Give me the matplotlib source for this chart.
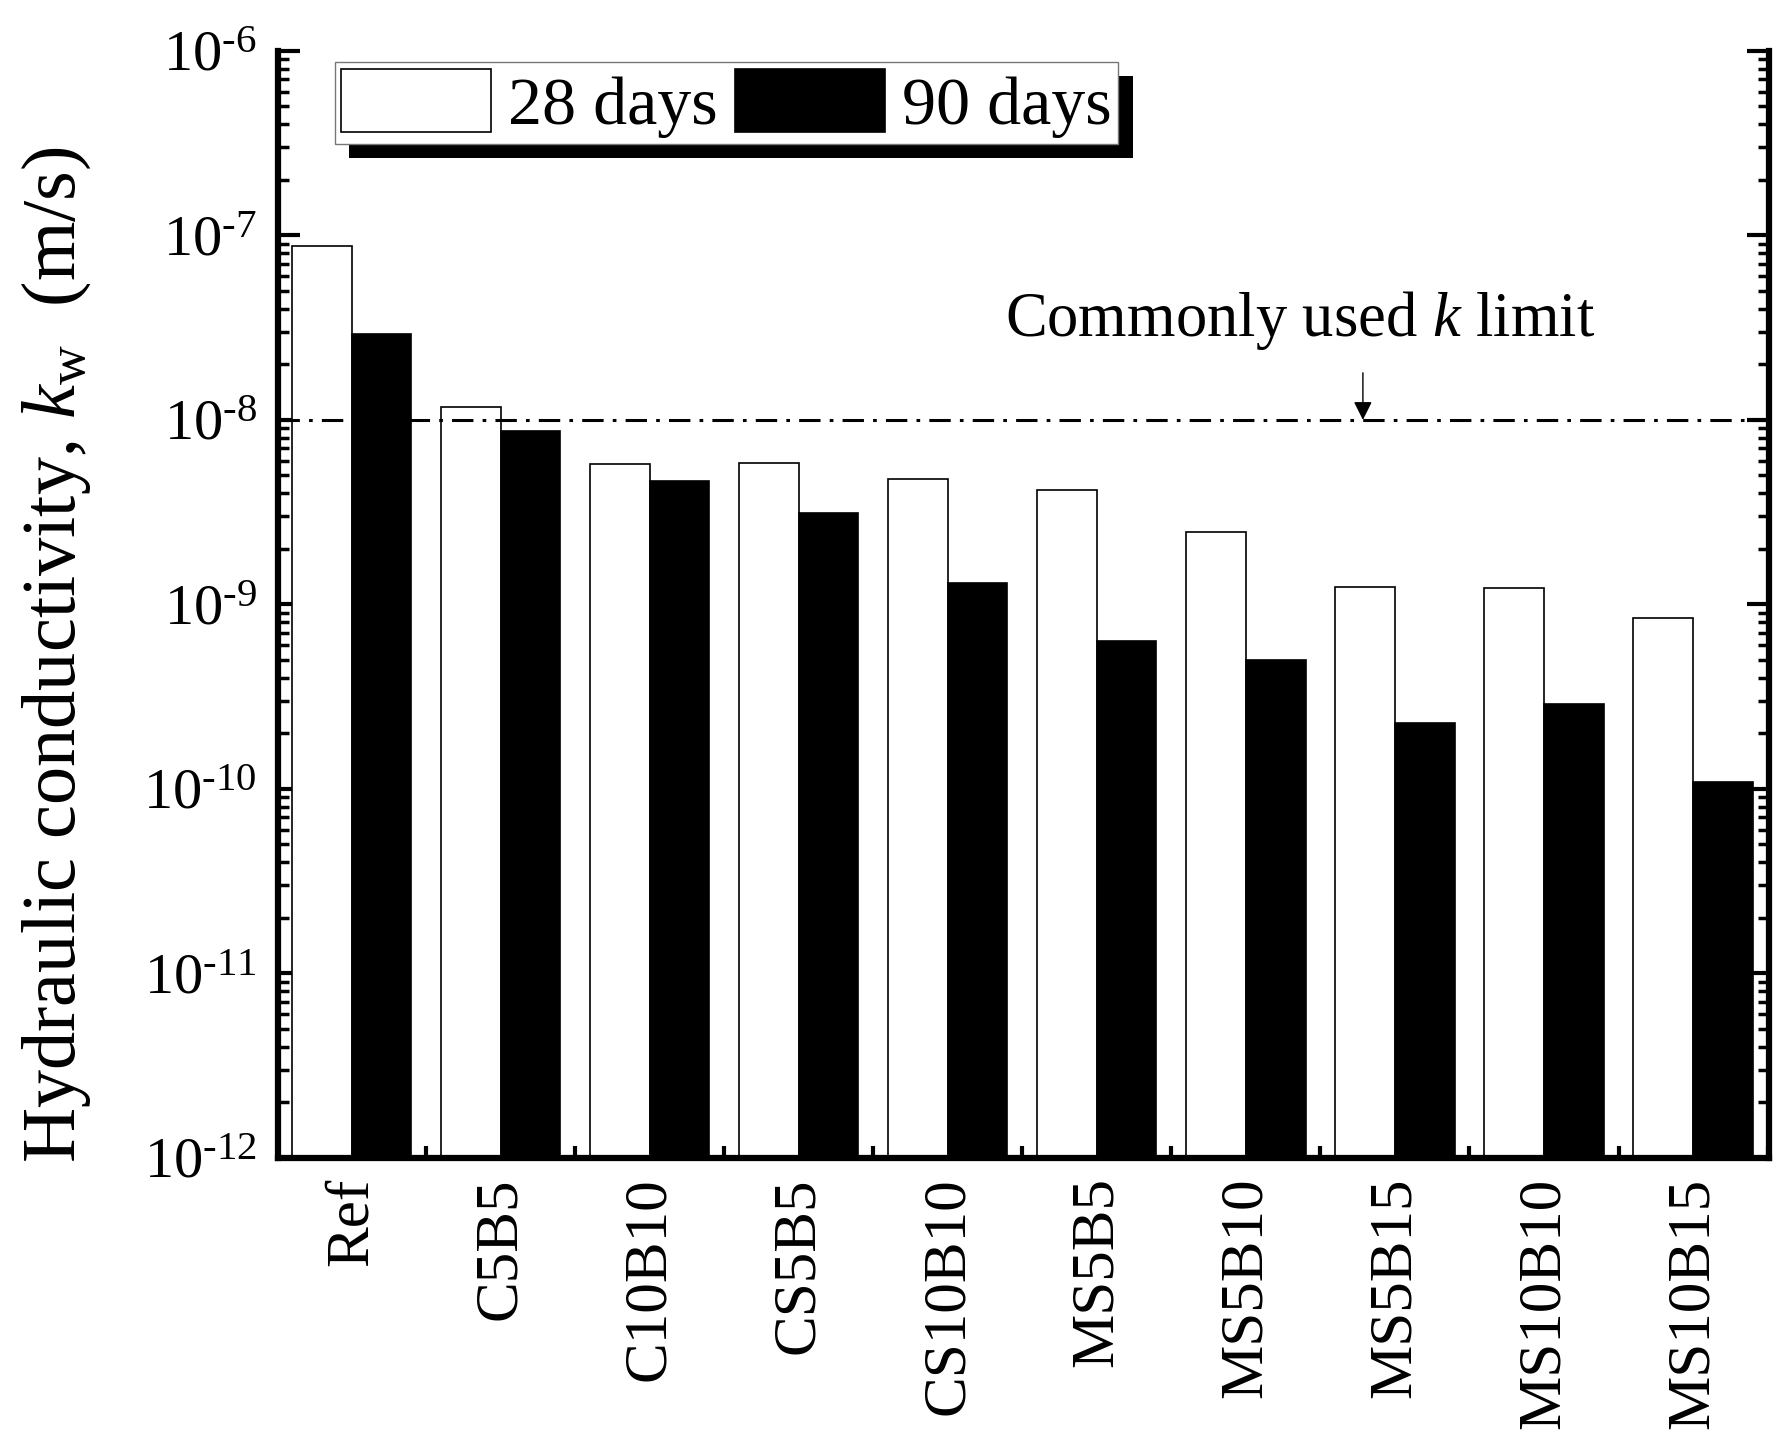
import numpy as np
import matplotlib
matplotlib.use('Agg')
import matplotlib.pyplot as plt
from matplotlib import patheffects
from matplotlib.ticker import FixedLocator, NullFormatter, LogLocator

plt.rcParams['font.family'] = ['Liberation Serif', 'DejaVu Serif']
plt.rcParams['mathtext.fontset'] = 'custom'
plt.rcParams['mathtext.rm'] = 'Liberation Serif'
plt.rcParams['mathtext.it'] = 'Liberation Serif:italic'

# data
mixes = ['Ref', 'C5B5', 'C10B10', 'CS5B5', 'CS10B10',
         'MS5B5', 'MS5B10', 'MS5B15', 'MS10B10', 'MS10B15']
k_28 = [8.8e-8, 1.17e-8, 5.8e-9, 5.85e-9, 4.8e-9,
        4.17e-9, 2.47e-9, 1.24e-9, 1.22e-9, 8.4e-10]
k_90 = [2.92e-8, 8.7e-9, 4.67e-9, 3.14e-9, 1.31e-9,
        6.3e-10, 5.0e-10, 2.27e-10, 2.88e-10, 1.09e-10]
legend_labels = ['28 days', '90 days']
k_limit = 1e-8
decades = [-12, -11, -10, -9, -8, -7, -6]
ytick_labels = ['10$^{\u2010%d}$' % abs(d) for d in decades]

fig = plt.figure(figsize=(17.76, 14.37), dpi=100)
ax = fig.add_axes([0.1565, 0.1942, 0.8396, 0.7704])

x = np.arange(len(mixes))
w = 0.4
ax.bar(x - w, k_28, width=w, align='edge', color='white',
       edgecolor='black', linewidth=1.2, zorder=2, label=legend_labels[0])
ax.bar(x, k_90, width=w, align='edge', color='black',
       edgecolor='black', linewidth=1.2, zorder=2, label=legend_labels[1])

ax.set_yscale('log')
ax.set_ylim(1e-12, 1e-6)
ax.set_xlim(-0.494, 9.51)

# commonly used k limit
ax.axhline(k_limit, color='black', lw=2.2, ls=(0, (7, 3, 1.2, 3)), zorder=3)
ax.annotate('', xy=(6.785, k_limit), xytext=(6.785, 1.8e-8),
            arrowprops=dict(arrowstyle='-|>', color='black', lw=1,
                            mutation_scale=28, shrinkA=0, shrinkB=0),
            zorder=4)
ax.text(6.365, 3.45e-8, 'Commonly used $k$ limit', fontsize=45,
        ha='center', va='center')

# axes style
for side in ['left', 'right', 'bottom']:
    ax.spines[side].set_linewidth(4.5)
ax.spines['top'].set_visible(False)

ax.yaxis.set_major_locator(FixedLocator([10.0 ** d for d in decades]))
ax.set_yticklabels(ytick_labels)
ax.yaxis.set_minor_locator(LogLocator(base=10, subs=np.arange(2, 10), numticks=20))
ax.yaxis.set_minor_formatter(NullFormatter())
ax.tick_params(axis='y', which='major', direction='in', length=16, width=3,
               left=True, right=True, labelsize=42, pad=15)
ax.tick_params(axis='y', which='minor', direction='in', length=8, width=2.5,
               left=True, right=True)

ax.set_xticks(x)
ax.set_xticklabels(mixes, rotation=90, fontsize=44)
ax.set_xticks(x + 0.5, minor=True)
ax.tick_params(axis='x', which='major', length=0, pad=14)
ax.tick_params(axis='x', which='minor', direction='in', length=9, width=3, top=False)

ax.set_ylabel('Hydraulic conductivity, $k_{\\mathrm{w}}$  (m/s)', fontsize=55, labelpad=36)
ax.yaxis.label.set_y(0.455)

leg = ax.legend(loc='upper left', bbox_to_anchor=(0.038, 0.99), ncol=2,
                fontsize=49, frameon=True, fancybox=False, handlelength=2.2,
                handleheight=1.05, handletextpad=0.25, columnspacing=0.25,
                borderpad=0.1, borderaxespad=0)
frame = leg.get_frame()
frame.set_edgecolor('#777777')
frame.set_linewidth(1)
frame.set_alpha(1)
frame.set_path_effects([patheffects.SimplePatchShadow(offset=(10.5, -10), shadow_rgbFace='black', alpha=1),
                        patheffects.Normal()])

fig.savefig('out.png', dpi=100, facecolor='white')
